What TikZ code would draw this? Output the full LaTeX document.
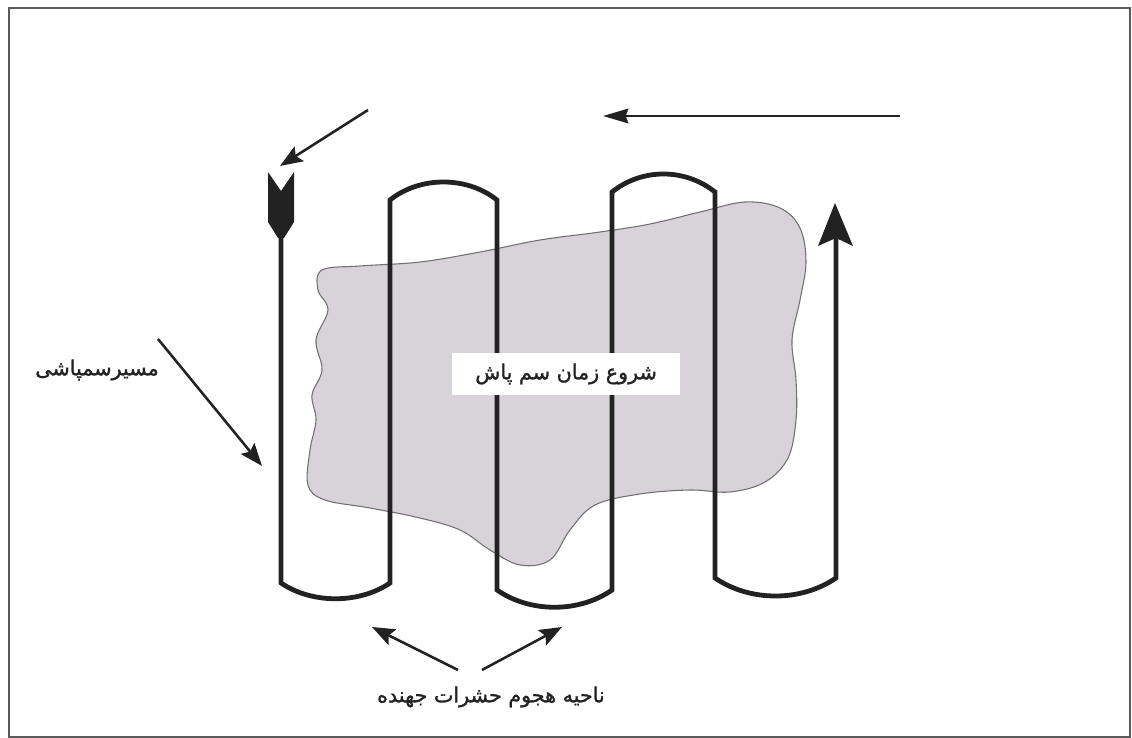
\documentclass[tikz,border=0pt]{standalone}
\usepackage{fontspec}
\newfontfamily\arabicfont[Script=Arabic,FakeBold=1.3]{DejaVu Sans}
\TeXXeTstate=1
\usetikzlibrary{arrows.meta}
\definecolor{ink}{HTML}{222222}
\definecolor{blobfill}{HTML}{D7D3D9}
\definecolor{blobline}{HTML}{707070}
\definecolor{framecol}{HTML}{5A5A5A}
\tikzset{
  sprayline/.style={draw=ink,line width=3.6pt,line join=miter},
  blobshape/.style={fill=blobfill,draw=blobline,line width=0.8pt},
  thinarrow/.style={draw=ink,line width=1.6pt,-{Stealth[length=19pt,width=11pt,inset=2pt]}},
  diagarrow/.style={draw=ink,line width=1.9pt,-{Stealth[length=17pt,width=13pt,inset=3pt]}},
  lbl/.style={font=\arabicfont\fontsize{15.5}{18}\selectfont,text=ink,inner sep=2pt},
  boxlbl/.style={lbl,fill=white,minimum width=171pt,minimum height=31pt}
}
\begin{document}
\begin{tikzpicture}[x=0.75pt,y=-0.75pt]
\useasboundingbox (0,0) rectangle (1132,738);
\draw[framecol,line width=1.5pt] (9,8) rectangle (1130,737);
% infested area
\draw[blobshape] plot[smooth cycle,tension=0.6] coordinates {
 (322,270) (360,266) (420,262) (480,252) (540,240) (600,232) (650,224) (700,212)
 (745,202) (780,208) (800,228) (806,262) (800,300) (792,340) (796,380) (796,420)
 (788,458) (765,482) (730,492) (690,490) (640,494) (595,505) (570,530) (550,560)
 (520,565) (490,550) (460,530) (420,518) (370,508) (325,500) (308,485) (310,450)
 (316,420) (312,395) (322,370) (316,340) (328,310) (318,290)};
% spray path
\coordinate (p0) at (281,236);
\coordinate (p1) at (281,583);
\coordinate (p2) at (390,583);
\coordinate (p3) at (390,200);
\coordinate (p4) at (497,200);
\coordinate (p5) at (497,590);
\coordinate (p6) at (612,590);
\coordinate (p7) at (612,192);
\coordinate (p8) at (715,192);
\coordinate (p9) at (715,578);
\coordinate (p10) at (836,578);
\coordinate (p11) at (836,236);
\draw[sprayline] (p0) -- (p1) .. controls (312,604) and (359,604) .. (p2)
  -- (p3) .. controls (420,176) and (467,176) .. (p4)
  -- (p5) .. controls (530,613) and (579,613) .. (p6)
  -- (p7) .. controls (642,168) and (685,168) .. (p8)
  -- (p9) .. controls (750,602) and (801,602) .. (p10)
  -- (p11);
% start tip (downward, notched)
\fill[ink] (268,172) -- (281,191) -- (294,172) -- (294,222) -- (284,238) -- (278,238) -- (268,222) -- cycle;
% end tip (upward)
\fill[ink] (835,203) -- (853,246) -- (836,238) -- (818,246) -- cycle;
% labels
\node[boxlbl] (start) at (566,374) {\beginR شروع زمان سم پاش\endR};
\node[lbl] (route) at (97,370) {\beginR مسیرسمپاشی\endR};
\node[lbl] (zone) at (491,697) {\beginR ناحیه هجوم حشرات جهنده\endR};
% direction arrows
\coordinate (t1) at (900,116);
\coordinate (t2) at (603,116);
\draw[thinarrow] (t1) -- (t2);
\coordinate (d1) at (368,110);
\coordinate (d2) at (280,166);
\draw[diagarrow] (d1) -- (d2);
\coordinate (r1) at (158,339);
\coordinate (r2) at (262,466);
\draw[diagarrow] (r1) -- (r2);
\coordinate (z1) at (458,670);
\coordinate (z2) at (372,627);
\coordinate (z3) at (482,670);
\coordinate (z4) at (562,627);
\draw[diagarrow] (z1) -- (z2);
\draw[diagarrow] (z3) -- (z4);
\end{tikzpicture}
\end{document}
